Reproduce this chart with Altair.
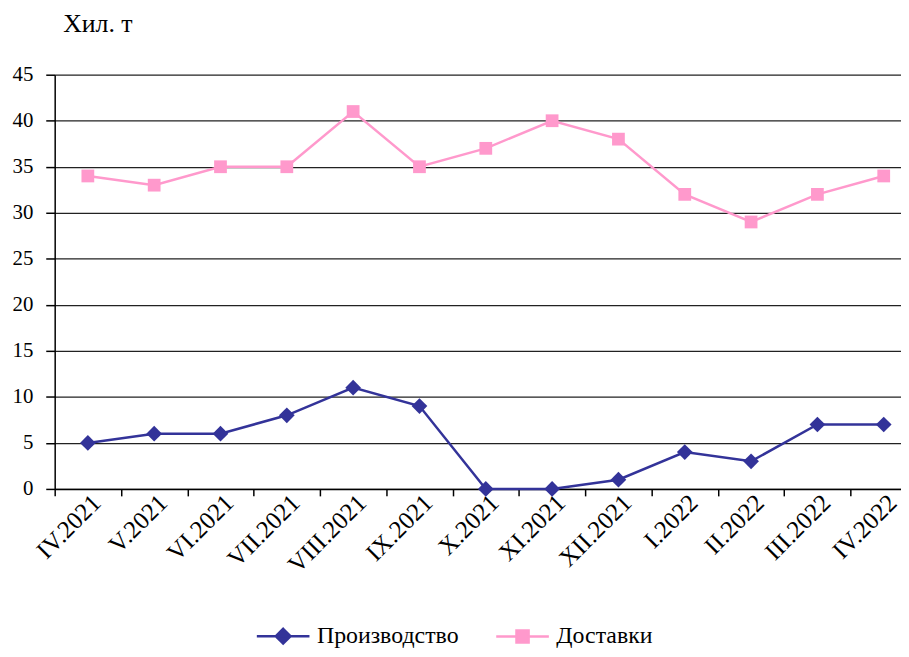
import altair as alt
import pandas as pd

months = ["IV.2021", "V.2021", "VI.2021", "VII.2021", "VIII.2021", "IX.2021",
          "X.2021", "XI.2021", "XII.2021", "I.2022", "II.2022", "III.2022", "IV.2022"]
production = [5, 6, 6, 8, 11, 9, 0, 0, 1, 4, 3, 7, 7]
deliveries = [34, 33, 35, 35, 41, 35, 37, 40, 38, 32, 29, 32, 34]
series_names = ["Производство", "Доставки"]
series_colors = ["#333399", "#FF99CC"]
y_ticks = [0, 5, 10, 15, 20, 25, 30, 35, 40, 45]

rows = []
for m, p, d in zip(months, production, deliveries):
    rows.append({"month": m, "series": series_names[0], "value": p})
    rows.append({"month": m, "series": series_names[1], "value": d})
df = pd.DataFrame(rows)

FONT = "Liberation Serif"

# legend symbols: a short line with the series marker in its middle
legend_shapes = [
    "M-1,0H1M0,-0.28L0.28,0L0,0.28L-0.28,0Z",
    "M-1,0H1M-0.23,-0.23H0.23V0.23H-0.23Z",
]


def make_legend():
    return alt.Legend(
        title=None,
        orient="none",
        direction="horizontal",
        legendX=202,
        legendY=537,
        symbolSize=2809,
        symbolStrokeWidth=2.5,
        symbolOpacity=1,
        labelFont=FONT,
        labelFontSize=24,
        labelColor="black",
        labelOffset=6,
        columnPadding=32,
    )


color_scale = alt.Scale(domain=series_names, range=series_colors)

x = alt.X(
    "month:N",
    sort=months,
    scale=alt.Scale(type="band", range=[0, 868], paddingInner=0, paddingOuter=0),
    axis=alt.Axis(
        title=None,
        labelAngle=-45,
        labelAlign="right",
        labelBaseline="top",
        labelFont=FONT,
        labelFontSize=25,
        labelColor="black",
        labelOffset=0,
        labelPadding=-6,
        domainColor="black",
        domainWidth=1.5,
        tickColor="black",
        tickWidth=1.5,
        tickSize=7,
        tickBand="extent",
        grid=False,
    ),
)

y = alt.Y(
    "value:Q",
    scale=alt.Scale(domain=[0, 45], nice=False),
    axis=alt.Axis(
        title="Хил. т",
        titleAngle=0,
        titleAlign="left",
        titleBaseline="alphabetic",
        titleX=8,
        titleY=-43,
        titleFont=FONT,
        titleFontSize=26,
        titleFontWeight="normal",
        titleColor="black",
        values=y_ticks,
        labelFont=FONT,
        labelFontSize=21,
        labelColor="black",
        labelPadding=13,
        domainColor="black",
        domainWidth=1.5,
        tickColor="black",
        tickWidth=1.5,
        tickSize=9,
        grid=True,
        gridColor="#222222",
        gridWidth=1.3,
    ),
)

base = alt.Chart(df).encode(x=x, y=y)

# invisible layer that only carries the legend (line + marker symbols); first so its legend wins
legend_layer = base.mark_point(filled=True, strokeWidth=2.5, opacity=0).encode(
    color=alt.Color("series:N", scale=color_scale, legend=make_legend()),
    stroke=alt.Stroke("series:N", scale=alt.Scale(domain=series_names, range=series_colors),
                      legend=make_legend()),
    shape=alt.Shape("series:N", scale=alt.Scale(domain=series_names, range=legend_shapes),
                    legend=make_legend()),
)

lines = base.mark_line(strokeWidth=2.5).encode(
    color=alt.Color("series:N", scale=color_scale, legend=None)
)

prod_points = base.transform_filter(
    alt.datum.series == series_names[0]
).mark_point(shape="diamond", filled=True, size=250, opacity=1, color=series_colors[0])

deliv_points = base.transform_filter(
    alt.datum.series == series_names[1]
).mark_point(shape="square", filled=True, size=165, opacity=1, color=series_colors[1])

chart = (
    alt.layer(legend_layer, lines, prod_points, deliv_points)
    .properties(
        width=852,
        height=417,
        autosize=alt.AutoSizeParams(type="none"),
        padding={"left": 47, "top": 65, "right": 0, "bottom": 159},
        background="white",
    )
    .configure_view(stroke=None)
)

chart.save("out.html", embed_options={"renderer": "svg", "actions": False})
